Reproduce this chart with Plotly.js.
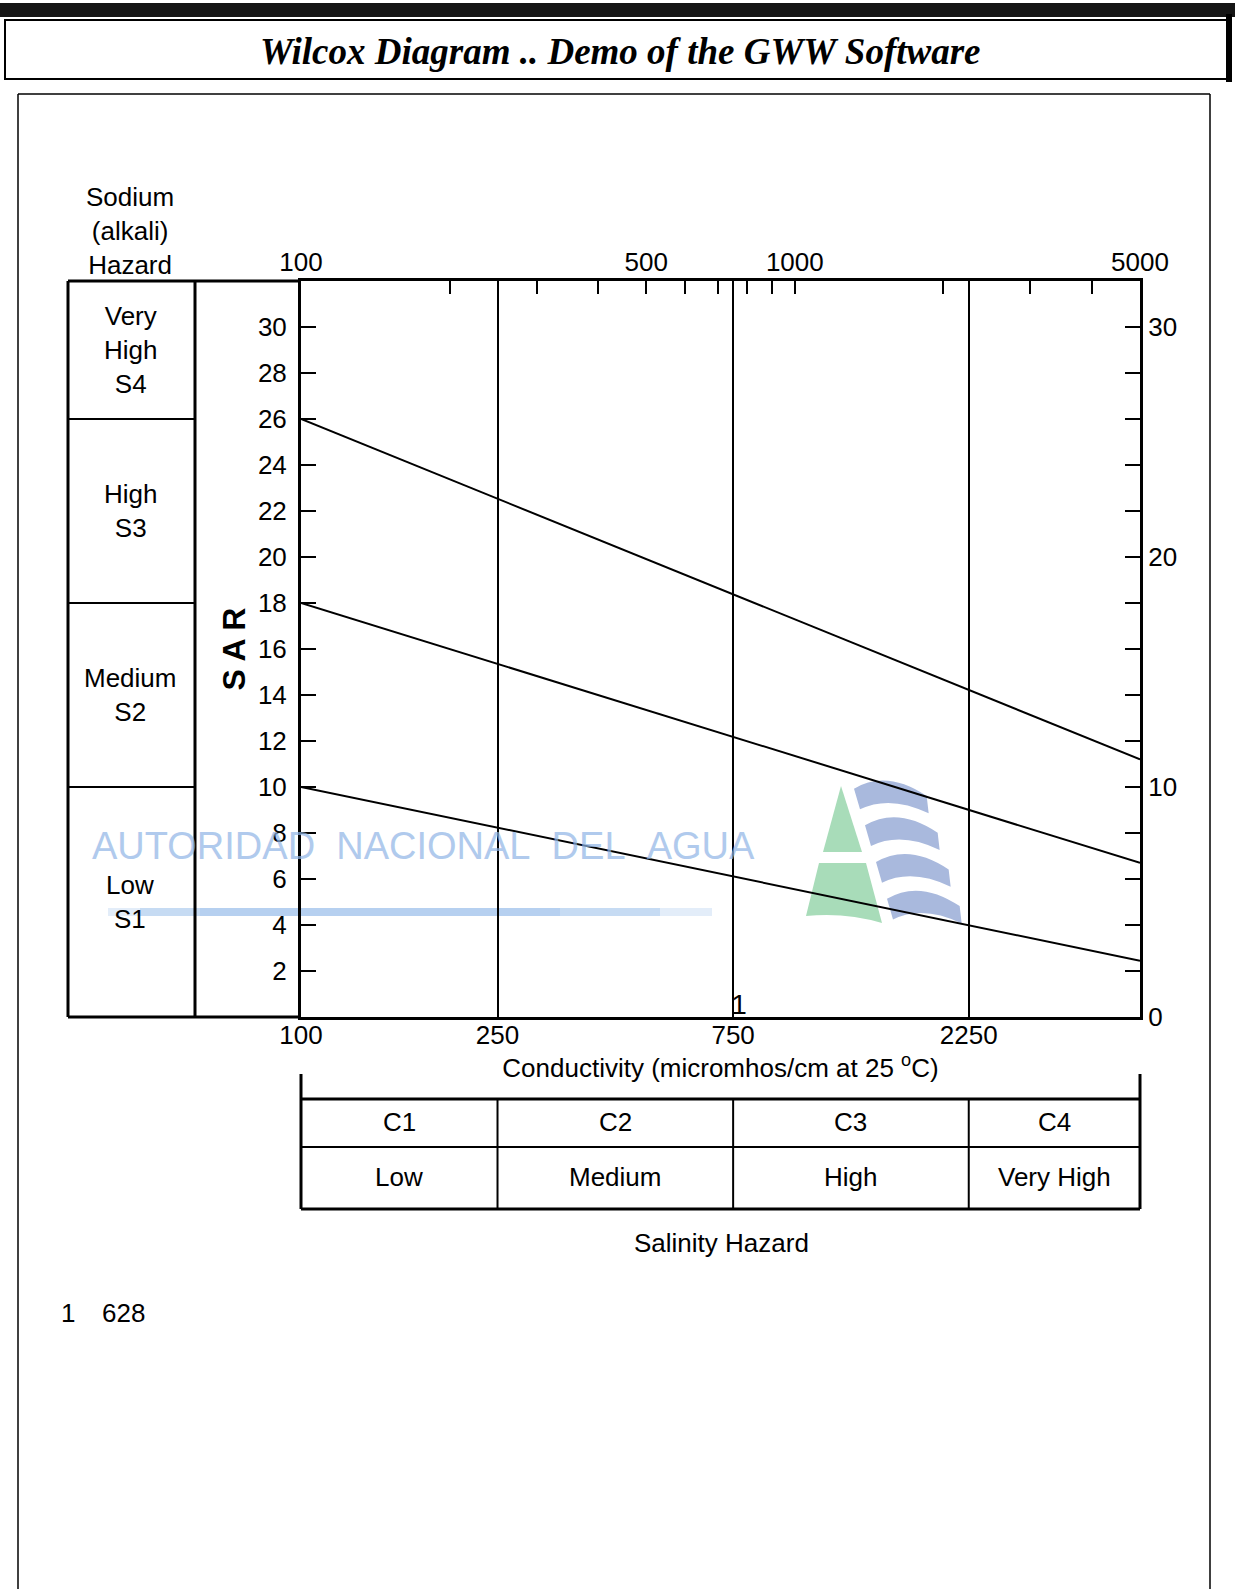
<!DOCTYPE html>
<html><head><meta charset="utf-8">
<script src="https://cdn.plot.ly/plotly-3.0.1.min.js"></script>
<style>html,body{margin:0;padding:0;background:#fff;} #chart{width:1235px;height:1589px;}</style>
</head><body><div id="chart"></div>
<script>
// ---------- data ----------
const conductivityEnds = [100, 5000];
const sarS4S3 = [26, 11.2];
const sarS3S2 = [18, 6.7];
const sarS2S1 = [10, 2.45];

const bottomTickVals = [100, 250, 750, 2250];
const bottomTickText = ['100', '250', '750', '2250'];
const topTickVals = [100, 200, 300, 400, 500, 600, 700, 800, 900, 1000, 2000, 3000, 4000, 5000];
const topTickText = ['100', '', '', '', '500', '', '', '', '', '1000', '', '', '', '5000'];
const leftTickVals = [2, 4, 6, 8, 10, 12, 14, 16, 18, 20, 22, 24, 26, 28, 30];
const rightTickVals = [0, 2, 4, 6, 8, 10, 12, 14, 16, 18, 20, 22, 24, 26, 28, 30];
const rightTickText = rightTickVals.map(v => (v % 10 === 0 ? String(v) : ''));

const sodiumBounds = [0, 10, 18, 26, 32];
const sodiumLabels = ['Low<br>S1', 'Medium<br>S2', 'High<br>S3', 'Very<br>High<br>S4'];
const salinityBounds = [100, 250, 750, 2250, 5000];
const salinityClasses = ['C1', 'C2', 'C3', 'C4'];
const salinityLevels = ['Low', 'Medium', 'High', 'Very High'];

const sampleIds = ['1'];
const sampleConductivity = ['628'];
const sampleLabelX = [771];
const sampleLabelY = [0.45];

// ---------- geometry helpers (figure pixels -> paper) ----------
const W = 1235, H = 1589;
const L = 301, R = 1140, T = 281, B = 1017;
const xp = px => (px - L) / (R - L);
const yp = py => (B - py) / (B - T);
const pt = (px, py) => xp(px).toFixed(5) + ',' + yp(py).toFixed(5);

const FONT = 'Liberation Sans, Arial, Helvetica, sans-serif';
const BLK = '#000';

// ---------- traces ----------
const lineStyle = {color: BLK, width: 2};
const traces = [
  {x: conductivityEnds, y: sarS4S3, mode: 'lines', line: lineStyle, hoverinfo: 'skip'},
  {x: conductivityEnds, y: sarS3S2, mode: 'lines', line: lineStyle, hoverinfo: 'skip'},
  {x: conductivityEnds, y: sarS2S1, mode: 'lines', line: lineStyle, hoverinfo: 'skip'},
  {x: sampleLabelX, y: sampleLabelY, mode: 'text', text: sampleIds, cliponaxis: false,
   textfont: {family: FONT, size: 28, color: BLK}, hoverinfo: 'skip'},
  {x: conductivityEnds, y: sarS2S1, xaxis: 'x2', yaxis: 'y2', mode: 'lines',
   opacity: 0, line: {width: 1}, hoverinfo: 'skip'}
];

// ---------- shapes ----------
const shapes = [];
function pline(x0, y0, x1, y1, w, extra) {
  shapes.push(Object.assign({type: 'line', xref: 'paper', yref: 'paper',
    x0: xp(x0), y0: yp(y0), x1: xp(x1), y1: yp(y1), line: {color: BLK, width: w}}, extra || {}));
}
// top black bar & title box
shapes.push({type: 'rect', xref: 'paper', yref: 'paper', x0: xp(0), x1: xp(1235), y0: yp(3), y1: yp(17),
  fillcolor: '#151515', line: {width: 0}});
shapes.push({type: 'rect', xref: 'paper', yref: 'paper', x0: xp(5), x1: xp(1227), y0: yp(20), y1: yp(79),
  line: {color: BLK, width: 2}});
pline(1229, 14, 1229, 82, 6);
// big frame
pline(18, 94, 1210, 94, 1.5);
pline(18, 94, 18, 1600, 1.5);
pline(1210, 94, 1210, 1600, 1.5);
// sodium hazard box
pline(68, T, 68, B, 3);
pline(195, T, 195, B, 3);
pline(68, T, L, T, 3);
pline(68, B, L, B, 3);
for (let i = 1; i < sodiumBounds.length - 1; i++) {
  shapes.push({type: 'line', xref: 'paper', yref: 'y', x0: xp(68), x1: xp(195),
    y0: sodiumBounds[i], y1: sodiumBounds[i], line: {color: BLK, width: 2}});
}
// salinity hazard table
pline(L, 1074, L, 1209, 3);
pline(R, 1074, R, 1209, 3);
pline(L, 1099, R, 1099, 3);
pline(L, 1147, R, 1147, 2);
pline(L, 1209, R, 1209, 3);
for (let i = 1; i < salinityBounds.length - 1; i++) {
  shapes.push({type: 'line', xref: 'x', yref: 'paper', x0: salinityBounds[i], x1: salinityBounds[i],
    y0: yp(1099), y1: yp(1209), line: {color: BLK, width: 2}});
}
// watermark streak
shapes.push({type: 'rect', xref: 'paper', yref: 'paper', layer: 'below', x0: xp(108), x1: xp(712),
  y0: yp(908), y1: yp(916), fillcolor: '#e3edf9', line: {width: 0}});
shapes.push({type: 'rect', xref: 'paper', yref: 'paper', layer: 'below', x0: xp(140), x1: xp(660),
  y0: yp(908), y1: yp(916), fillcolor: '#c6dbf3', line: {width: 0}});
shapes.push({type: 'rect', xref: 'paper', yref: 'paper', layer: 'below', x0: xp(200), x1: xp(560),
  y0: yp(908), y1: yp(916), fillcolor: '#b6d0f0', line: {width: 0}});
// watermark logo
const GREEN = '#a8dcb9', BLUE = '#a9b9dd';
shapes.push({type: 'path', xref: 'paper', yref: 'paper', layer: 'below', fillcolor: GREEN, line: {width: 0},
  path: 'M' + pt(841, 786) + ' L' + pt(862, 852) + ' L' + pt(823, 852) + ' Z'});
shapes.push({type: 'path', xref: 'paper', yref: 'paper', layer: 'below', fillcolor: GREEN, line: {width: 0},
  path: 'M' + pt(819, 863) + ' L' + pt(866, 863) + ' L' + pt(882, 923) + ' Q' + pt(845, 912) + ' ' + pt(806, 916) + ' Z'});
for (let k = 0; k < 4; k++) {
  const dx = k * 11, dy = k * 36.7;
  const P = (X, Y) => pt(780 + X / 3 + dx, 750 + Y / 3 + dy);
  shapes.push({type: 'path', xref: 'paper', yref: 'paper', layer: 'below', fillcolor: BLUE, line: {width: 0},
    path: 'M' + P(222, 116) + ' Q' + P(320, 58) + ' ' + P(440, 138) + ' L' + P(446, 190) +
          ' Q' + P(330, 134) + ' ' + P(240, 178) + ' Z'});
}

// ---------- annotations ----------
const ann = [];
function txt(text, x, y, size, extra) {
  ann.push(Object.assign({text: text, xref: 'paper', yref: 'paper', x: xp(x), y: yp(y),
    xanchor: 'center', yanchor: 'middle',
    showarrow: false, font: {family: FONT, size: size, color: BLK}}, extra || {}));
}
txt('<b><i>Wilcox Diagram .. Demo of the GWW Software</i></b>', 620, 51, 37,
  {font: {family: 'Liberation Serif, Times New Roman, serif', size: 37, color: BLK}});
txt('Sodium<br>(alkali)<br>Hazard', 130, 231, 26);
for (let i = 0; i < sodiumLabels.length; i++) {
  ann.push({text: sodiumLabels[i], xref: 'paper', yref: 'y', x: xp(130),
    y: (sodiumBounds[i] + sodiumBounds[i + 1]) / 2, xanchor: 'center', yanchor: 'middle', showarrow: false,
    font: {family: FONT, size: 26, color: BLK}});
}
for (let i = 0; i < salinityClasses.length; i++) {
  const cx = (Math.log10(salinityBounds[i]) + Math.log10(salinityBounds[i + 1])) / 2;
  ann.push({text: salinityClasses[i], xref: 'x', yref: 'paper', x: cx, y: yp(1122), showarrow: false,
    xanchor: 'center', yanchor: 'middle', font: {family: FONT, size: 26, color: BLK}});
  ann.push({text: salinityLevels[i], xref: 'x', yref: 'paper', x: cx, y: yp(1177), showarrow: false,
    xanchor: 'center', yanchor: 'middle', font: {family: FONT, size: 26, color: BLK}});
}
txt('Salinity Hazard', 721, 1243, 26);
txt(sampleIds[0], 68, 1313, 26);
txt(sampleConductivity[0], 100, 1313, 26, {xanchor: 'left'});
// watermark text
ann.push({text: 'AUTORIDAD\u00A0\u00A0NACIONAL\u00A0\u00A0DEL\u00A0\u00A0AGUA', xref: 'paper', yref: 'paper',
  x: xp(423), y: yp(846), xanchor: 'center', yanchor: 'middle', showarrow: false, opacity: 0.7,
  font: {family: 'Liberation Sans Narrow, Arial Narrow, Liberation Sans, Arial, sans-serif', size: 38, color: '#8fb4e6'}});

// ---------- layout ----------
const tickFont = {family: FONT, size: 26, color: BLK};
const layout = {
  width: W, height: H,
  margin: {l: L, r: W - R, t: T, b: H - B, pad: 0},
  paper_bgcolor: '#fff', plot_bgcolor: '#fff',
  showlegend: false, hovermode: false,
  xaxis: {
    type: 'log', range: [2, Math.log10(5000)], autorange: false,
    tickmode: 'array', tickvals: bottomTickVals, ticktext: bottomTickText,
    ticks: '', showgrid: true, gridcolor: BLK, gridwidth: 2, ticklabelstandoff: -7,
    showline: true, linecolor: BLK, linewidth: 3, zeroline: false,
    tickfont: tickFont, automargin: false,
    title: {text: 'Conductivity (micromhos/cm at 25 <sup>o</sup>C)', font: {family: FONT, size: 26, color: BLK}, standoff: 2}
  },
  xaxis2: {
    type: 'log', range: [2, Math.log10(5000)], autorange: false, overlaying: 'x', side: 'top', anchor: 'y',
    tickmode: 'array', tickvals: topTickVals, ticktext: topTickText,
    ticks: 'inside', ticklen: 13, tickwidth: 2, tickcolor: BLK, ticklabelstandoff: -3,
    showgrid: false, showline: true, linecolor: BLK, linewidth: 3, zeroline: false,
    tickfont: tickFont, automargin: false
  },
  yaxis: {
    range: [0, 32], autorange: false,
    tickmode: 'array', tickvals: leftTickVals,
    ticks: 'inside', ticklen: 15, tickwidth: 2, tickcolor: BLK, ticklabelstandoff: 6,
    showgrid: false, showline: true, linecolor: BLK, linewidth: 3, zeroline: false,
    tickfont: tickFont, automargin: false,
    title: {text: '<b>S A R</b>', font: {family: FONT, size: 32, color: BLK}, standoff: 3}
  },
  yaxis2: {
    range: [0, 32], autorange: false, overlaying: 'y', side: 'right', anchor: 'x',
    tickmode: 'array', tickvals: rightTickVals, ticktext: rightTickText,
    ticks: 'inside', ticklen: 15, tickwidth: 2, tickcolor: BLK,
    showgrid: false, showline: true, linecolor: BLK, linewidth: 3, zeroline: false,
    tickfont: tickFont, automargin: false
  },
  shapes: shapes,
  annotations: ann
};

Plotly.newPlot('chart', traces, layout, {staticPlot: true, displayModeBar: false});
</script>
</body></html>
